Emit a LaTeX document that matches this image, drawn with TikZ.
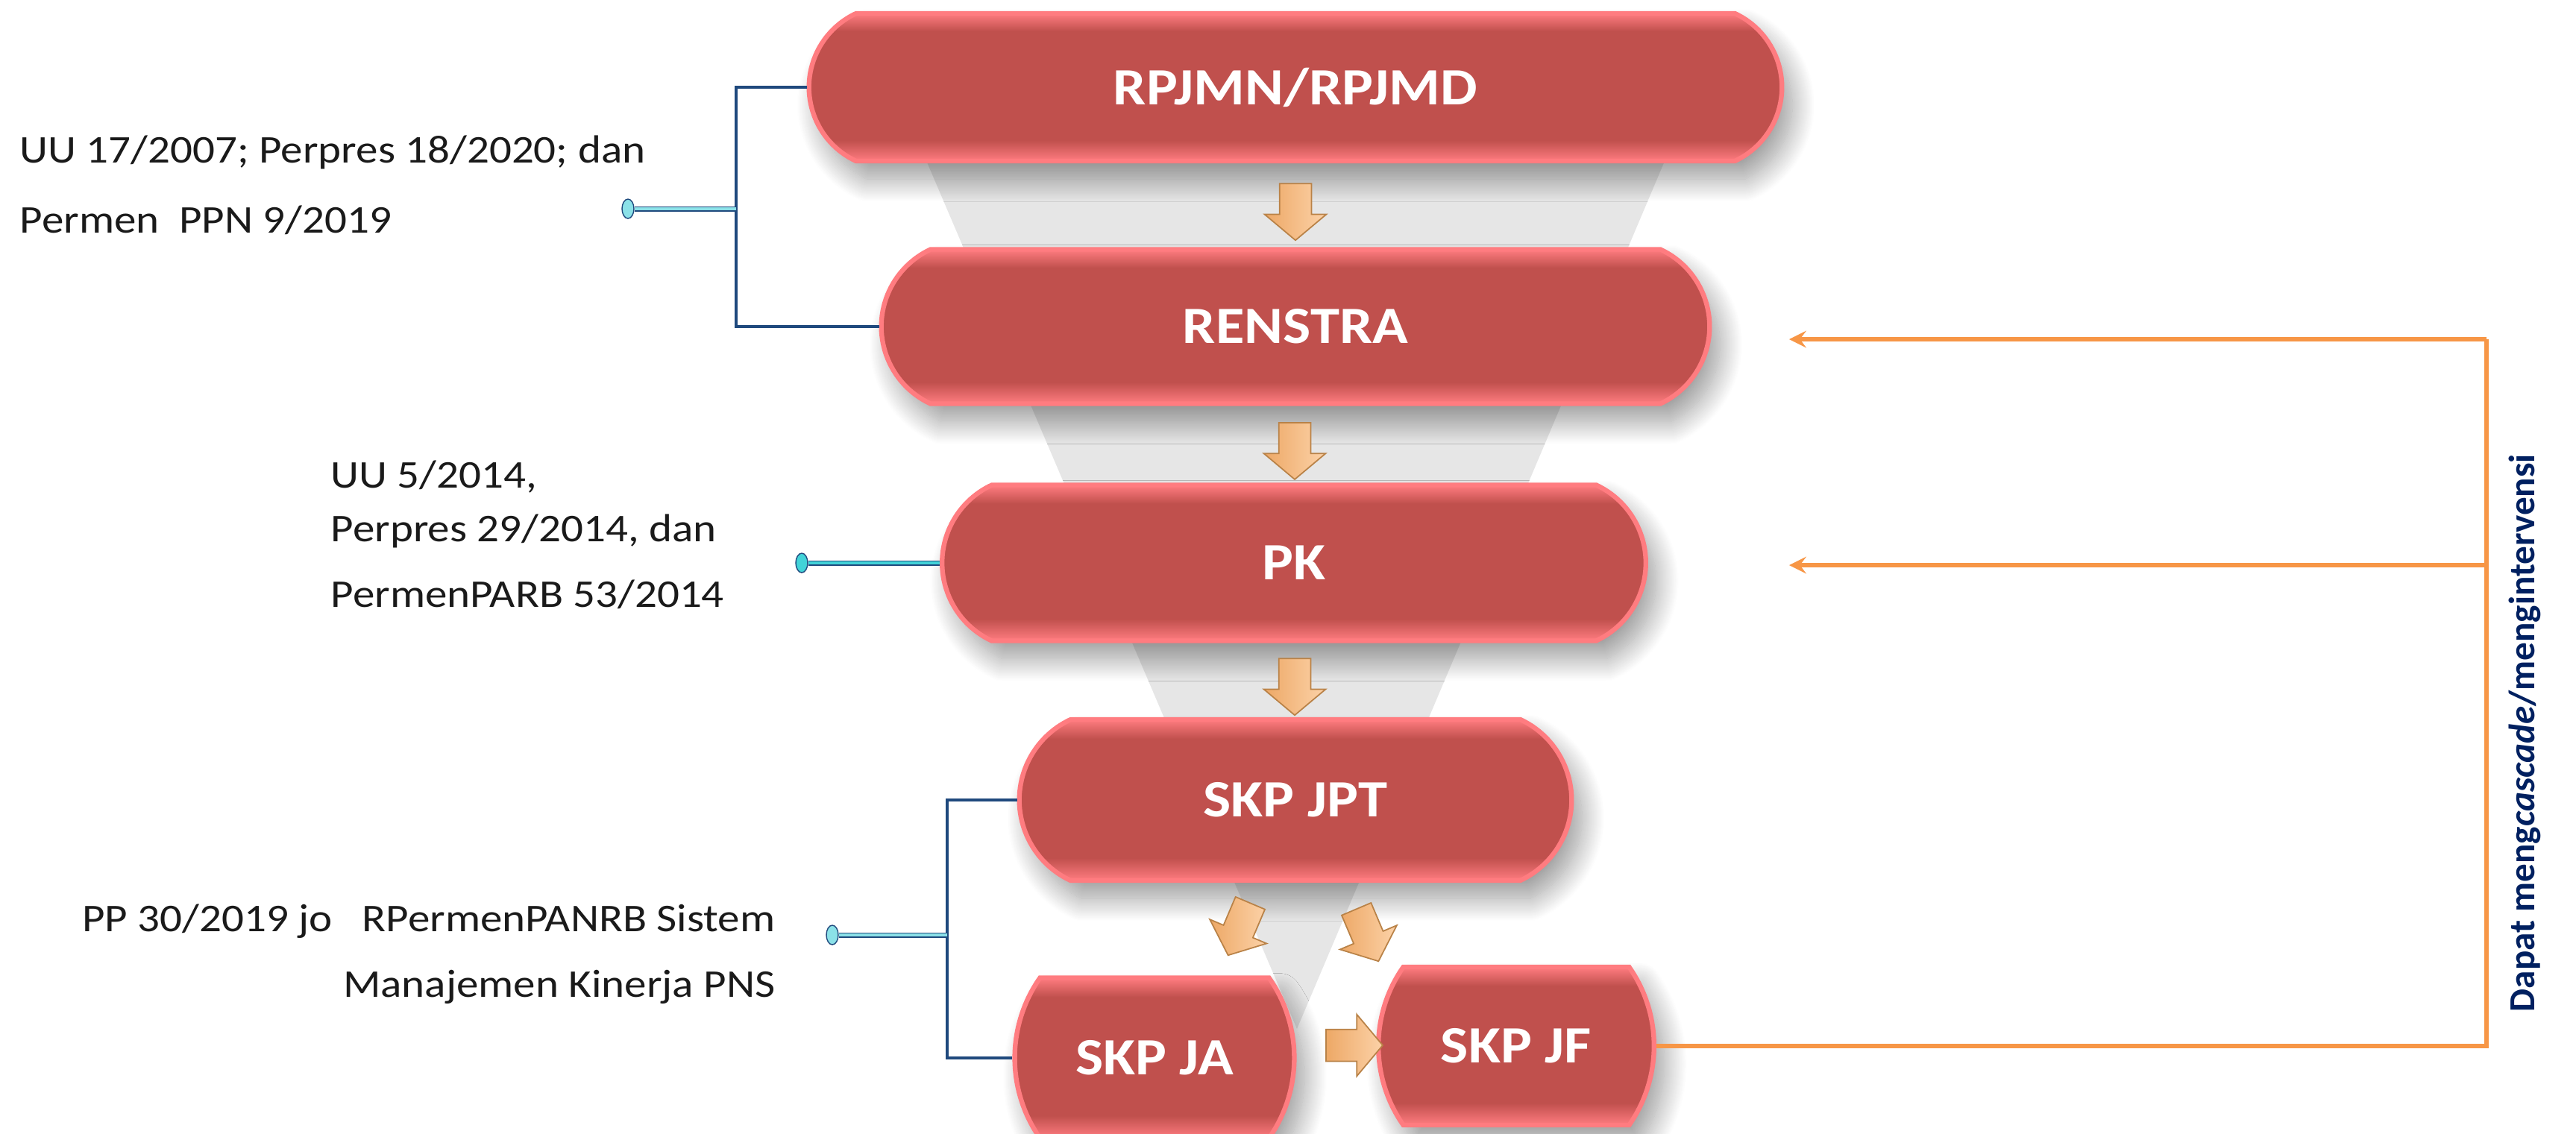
\documentclass[tikz,border=0pt]{standalone}
\usepackage{fontspec}
\setmainfont{Carlito}[FakeStretch=1.12]
\newfontfamily\uprightfont{Carlito}
\usepackage{tikz}
\usetikzlibrary{arrows,calc,positioning}
\usetikzlibrary{shapes.misc,shapes.arrows,shapes.geometric}
\usetikzlibrary{shadows.blur}

\definecolor{boxred}{HTML}{C0504D}
\definecolor{rimred}{HTML}{FF7C80}
\definecolor{funnelgray}{HTML}{E6E6E6}
\definecolor{bracketblue}{HTML}{1F497D}
\definecolor{pincyan}{HTML}{8BE1E8}
\definecolor{pinbright}{HTML}{42D3D8}
\definecolor{cascadeorange}{HTML}{F79646}
\definecolor{labelnavy}{HTML}{002060}
\definecolor{peach}{HTML}{FCD2A8}
\definecolor{peachdark}{HTML}{EDA866}
\definecolor{peachedge}{HTML}{B98247}
\definecolor{textgray}{HTML}{1A1A1A}

\pgfdeclareverticalshading{redbar}{100bp}{color(0bp)=(rimred); color(25bp)=(rimred); color(32bp)=(boxred); color(69bp)=(boxred); color(75bp)=(rimred); color(100bp)=(rimred)}

\begin{document}
\begin{tikzpicture}[
  > = stealth,
  planbox/.style = {rounded rectangle, rounded rectangle arc length=130, shading=redbar, draw=rimred, line width=1.8pt,
    text=white, font=\fontsize{20}{24}\selectfont\bfseries,
    blur shadow={shadow xshift=0.14cm, shadow yshift=-0.24cm, shadow blur radius=0.3cm, shadow blur steps=30, shadow opacity=40}},
  skpbox/.style = {planbox, rounded rectangle arc length=70},
  flow/.style = {single arrow, minimum height=0.76cm, minimum width=0.82cm, single arrow head extend=0.2cm,
    inner xsep=0pt, inner ysep=0.205cm, single arrow tip angle=100,
    left color=peachdark, right color=peach, draw=peachedge, line width=0.5pt},
  law/.style = {inner sep=0pt, text=textgray, font=\fontsize{15}{26.7}\selectfont},
  bracketline/.style = {draw=bracketblue, line width=1.4pt},
  pinline/.style = {draw=bracketblue, line width=0.35pt, double=pincyan, double distance=1.3pt},
  pinhead/.style = {ellipse, draw=bracketblue, fill=pincyan, line width=0.4pt, minimum width=0.16cm, minimum height=0.26cm, inner sep=0pt},
  cascadeline/.style = {draw=cascadeorange, line width=1.8pt},
  ]
  \useasboundingbox (0,0) rectangle (34.54,-15.20);

  % funnel behind the levels
  \fill[funnelgray] (12.00,-1.17) -- (22.74,-1.17) -- (17.39,-13.80) -- cycle;

  % planning levels
  \node[planbox, minimum width=13.28cm, minimum height=1.98cm] (rpjmn) at (17.37,-1.17) {RPJMN/RPJMD};
  \node[planbox, minimum width=11.34cm, minimum height=2.07cm] (renstra) at (17.37,-4.38) {RENSTRA};
  \node[planbox, minimum width=9.67cm, minimum height=2.09cm] (pk) at (17.35,-7.55) {PK};
  \node[planbox, minimum width=7.64cm, minimum height=2.16cm] (skpjpt) at (17.37,-10.73) {SKP JPT};
  \node[skpbox, minimum width=3.37cm, minimum height=2.15cm] (skpja) at (15.48,-14.19) {SKP JA};
  \node[skpbox, minimum width=3.36cm, minimum height=2.12cm] (skpjf) at (20.33,-14.03) {SKP JF};

  % arrows between levels
  \node[flow, rotate=-90] (down1) at ($(rpjmn.south)!0.5!(renstra.north)$) {};
  \node[flow, rotate=-90] (down2) at ($(renstra.south)!0.5!(pk.north)$) {};
  \node[flow, rotate=-90] (down3) at ($(pk.south)!0.5!(skpjpt.north)$) {};
  \node[flow, rotate=-113] (toja) at (16.65,-12.38) {};
  \node[flow, rotate=-67] (tojf) at (18.30,-12.46) {};
  \node[flow] (jatojf) at (18.07,-14.02) {};

  % legal basis
  \node[law, anchor=base west, align=left] (lawplan) at (0.26,-3.12) {UU 17/2007; Perpres 18/2020; dan\\Permen~ PPN 9/2019};
  \node[law, anchor=base west, align=left, font=\fontsize{15}{20.5}\selectfont] (lawpk) at (4.43,-8.14) {UU 5/2014,\\Perpres 29/2014, dan\\[0.15cm]PermenPARB 53/2014};
  \node[law, anchor=base east, align=right, font=\fontsize{15}{24.8}\selectfont] (lawskp) at (10.40,-13.37) {PP 30/2019 jo~~ RPermenPANRB Sistem\\Manajemen Kinerja PNS};

  \node[pinhead] (pinA) at (8.42,-2.80) {};
  \coordinate (brkA) at (9.87,-2.80);
  \draw[bracketline] (rpjmn.west) -| (brkA) |- (renstra.west);
  \draw[pinline] (pinA.east) -- (brkA);

  \node[pinhead, fill=pinbright] (pinB) at (10.75,-7.55) {};
  \draw[pinline, double=pinbright] (pinB.east) -- (pk.west);

  \node[pinhead] (pinC) at (11.16,-12.54) {};
  \coordinate (brkC) at (12.70,-12.54);
  \draw[bracketline] (skpjpt.west) -| (brkC) |- (skpja.west);
  \draw[pinline] (pinC.east) -- (brkC);

  % cascade feedback
  \coordinate (railtop) at (33.34,-4.55);
  \coordinate (railpk) at (33.34,-7.58);
  \coordinate (tipRenstra) at (23.99,-4.55);
  \coordinate (tipPK) at (23.99,-7.58);
  \draw[cascadeline] (skpjf.east) -| (railtop);
  \draw[cascadeline,->] (railtop) -- (tipRenstra);
  \draw[cascadeline,->] (railpk) -- (tipPK);
  \node[rotate=90, inner sep=0pt, text=labelnavy, font=\uprightfont\fontsize{14}{17}\selectfont\bfseries] (cascadenote) at (33.85,-9.83) {Dapat meng\textit{cascade}/mengintervensi};
\end{tikzpicture}
\end{document}
